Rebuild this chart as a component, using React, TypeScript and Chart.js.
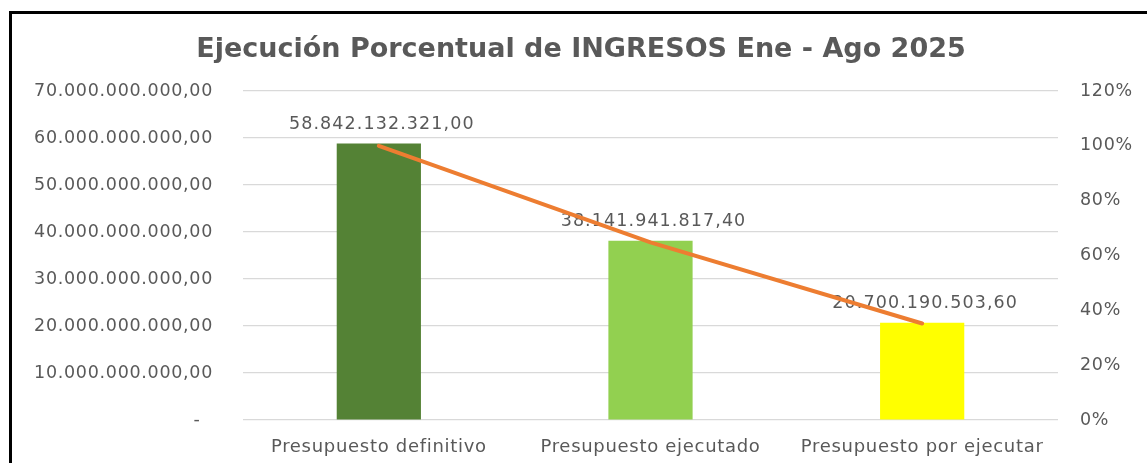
import React, { useEffect, useRef } from 'react';
import { Chart, registerables } from 'chart.js';

Chart.register(...registerables);

const chartTitle = 'Ejecución Porcentual de INGRESOS Ene - Ago 2025';
const categories = ['Presupuesto definitivo', 'Presupuesto ejecutado', 'Presupuesto por ejecutar'];
const budgetValues = [58842132321.0, 38141941817.4, 20700190503.6];
const percentValues = [1.0, 0.648, 0.352];
const barColors = ['#548235', '#92D050', '#FFFF00'];
const leftTickMax = 70000000000;
const leftTickStep = 10000000000;
const rightTickMax = 1.2;
const rightTickStep = 0.2;

const FONT = '"DejaVu Sans", sans-serif';
const TEXT = '#595959';

function fmtMoney(v: number): string {
  if (v === 0) return '-  ';
  const [i, d] = v.toFixed(2).split('.');
  return i.replace(/\B(?=(\d{3})+(?!\d))/g, '.') + ',' + d;
}

const overlayPlugin = {
  id: 'overlay',
  beforeDraw(chart: any) {
    (chart.ctx as any).letterSpacing = '0.7px';
  },
  afterDatasetDraw(chart: any, args: any) {
    if (args.index !== 0) return;
    const ctx = chart.ctx;
    const meta = chart.getDatasetMeta(0);
    ctx.save();
    (ctx as any).letterSpacing = '1.1px';
    ctx.font = `17.5px ${FONT}`;
    ctx.fillStyle = TEXT;
    ctx.textAlign = 'center';
    ctx.textBaseline = 'middle';
    meta.data.forEach((el: any, i: number) => {
      ctx.fillText(fmtMoney(budgetValues[i]), el.x + 3, el.y - 19);
    });
    ctx.restore();
  },
  afterDraw(chart: any) {
    const ctx = chart.ctx;
    ctx.save();
    (ctx as any).letterSpacing = '0px';
    ctx.font = `bold 27px ${FONT}`;
    ctx.fillStyle = TEXT;
    ctx.textAlign = 'center';
    ctx.textBaseline = 'middle';
    ctx.fillText(chartTitle, 581, 50);
    ctx.restore();
    (ctx as any).letterSpacing = '0px';
  },
};

export default function App() {
  const ref = useRef<HTMLCanvasElement | null>(null);
  useEffect(() => {
    if (!ref.current) return;
    const chart = new Chart(ref.current, {
      type: 'bar',
      data: {
        labels: categories,
        datasets: [
          {
            type: 'bar',
            data: budgetValues,
            backgroundColor: barColors,
            borderWidth: 0,
            barPercentage: 0.31,
            categoryPercentage: 1,
            yAxisID: 'y',
            order: 1,
          },
          {
            type: 'line',
            data: percentValues,
            borderColor: '#ED7D31',
            borderWidth: 4,
            pointRadius: 0,
            borderCapStyle: 'round',
            yAxisID: 'y1',
            order: 0,
          } as any,
        ],
      },
      options: {
        responsive: false,
        animation: false,
        layout: { padding: { top: 91, left: 0, right: 0, bottom: 0 } },
        plugins: {
          legend: { display: false },
          title: { display: false },
          tooltip: { enabled: false },
        },
        scales: {
          x: {
            grid: { display: false },
            border: { display: false },
            ticks: { color: TEXT, font: { family: FONT, size: 18 }, padding: 9 },
            afterFit(s: any) { s.height = 43; },
          },
          y: {
            position: 'left',
            min: 0,
            max: leftTickMax,
            ticks: {
              stepSize: leftTickStep,
              color: TEXT,
              font: { family: FONT, size: 17.5 },
              padding: 30,
              callback: (v: any) => fmtMoney(Number(v)),
            },
            grid: { color: '#D9D9D9', lineWidth: 1.2, drawTicks: false },
            border: { display: false },
            afterFit(s: any) { s.width = 243; },
          },
          y1: {
            position: 'right',
            min: 0,
            max: rightTickMax,
            ticks: {
              stepSize: rightTickStep,
              color: TEXT,
              font: { family: FONT, size: 17.5 },
              padding: 22,
              callback: (v: any) => Math.round(Number(v) * 100) + '%',
            },
            grid: { display: false, drawTicks: false },
            border: { display: false },
            afterFit(s: any) { s.width = 89; },
          },
        },
      },
      plugins: [overlayPlugin],
    });
    return () => chart.destroy();
  }, []);
  return (
    <div style={{ position: 'fixed', left: 0, top: 0, width: 1147, height: 463, background: '#fff', overflow: 'hidden' }}>
      <canvas ref={ref} width={1147} height={463} style={{ display: 'block', width: 1147, height: 463 }} />
      <div
        style={{
          position: 'absolute',
          left: 9,
          top: 11,
          width: 1160,
          height: 480,
          borderLeft: '3px solid #000',
          borderTop: '3px solid #000',
          pointerEvents: 'none',
        }}
      />
    </div>
  );
}
